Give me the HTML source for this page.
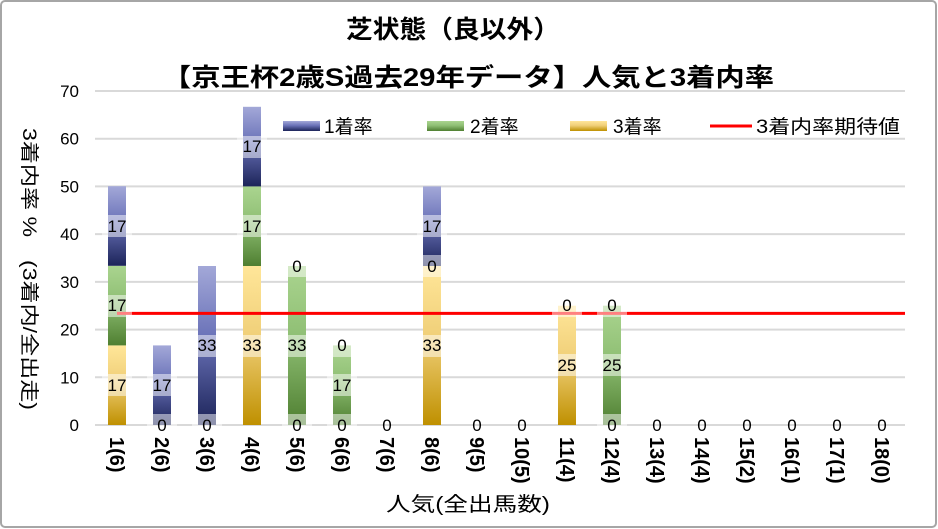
<!DOCTYPE html>
<html><head><meta charset="utf-8"><style>
html,body{margin:0;padding:0;background:#fff;}
svg{display:block;font-family:"Liberation Sans","Noto Sans CJK JP",sans-serif;}
</style></head><body>
<svg width="938" height="529" viewBox="0 0 938 529" xmlns="http://www.w3.org/2000/svg">
<defs>
<linearGradient id="gb" x1="0" y1="0" x2="0" y2="1"><stop offset="0" stop-color="#a3a8d8"/><stop offset="0.45" stop-color="#6a72b8"/><stop offset="1" stop-color="#1c2459"/></linearGradient>
<linearGradient id="gg" x1="0" y1="0" x2="0" y2="1"><stop offset="0" stop-color="#aad48f"/><stop offset="0.45" stop-color="#8fbf74"/><stop offset="1" stop-color="#4f7f31"/></linearGradient>
<linearGradient id="gy" x1="0" y1="0" x2="0" y2="1"><stop offset="0" stop-color="#ffe699"/><stop offset="0.45" stop-color="#f0cf78"/><stop offset="1" stop-color="#bf9000"/></linearGradient>
</defs>
<rect x="1" y="1" width="935" height="526" rx="4" fill="#fff" stroke="#a6a6a6" stroke-width="2"/>
<text x="346" y="38" font-size="25" font-weight="bold" textLength="214" lengthAdjust="spacingAndGlyphs">芝状態（良以外）</text>
<text x="162" y="86" font-size="25" font-weight="bold" textLength="612" lengthAdjust="spacingAndGlyphs">【京王杯2歳S過去29年データ】人気と3着内率</text>
<!-- grid -->
<g stroke="#d9d9d9" stroke-width="2">
<line x1="95" y1="91" x2="905" y2="91"/><line x1="95" y1="138.7" x2="905" y2="138.7"/>
<line x1="95" y1="186.4" x2="905" y2="186.4"/><line x1="95" y1="234.1" x2="905" y2="234.1"/>
<line x1="95" y1="281.9" x2="905" y2="281.9"/><line x1="95" y1="329.6" x2="905" y2="329.6"/>
<line x1="95" y1="377.3" x2="905" y2="377.3"/><line x1="95" y1="425" x2="905" y2="425"/>
</g>
<g font-size="17" text-anchor="end" fill="#000">
<text x="79" y="97">70</text><text x="79" y="144.7">60</text><text x="79" y="192.4">50</text>
<text x="79" y="240.1">40</text><text x="79" y="287.9">30</text><text x="79" y="335.6">20</text>
<text x="79" y="383.3">10</text><text x="79" y="431">0</text>
</g>
<text transform="translate(23,128) rotate(90)" font-size="19" textLength="282" lengthAdjust="spacingAndGlyphs">3着内率 %　(3着内/全出走)</text>
<!-- legend -->
<rect x="283" y="121" width="37" height="10" fill="url(#gb)"/><text x="324" y="133" font-size="19">1着率</text>
<rect x="427" y="121" width="37" height="10" fill="url(#gg)"/><text x="470" y="133" font-size="19">2着率</text>
<rect x="570" y="121" width="37" height="10" fill="url(#gy)"/><text x="613" y="133" font-size="19">3着率</text>
<line x1="710" y1="126" x2="752" y2="126" stroke="#f00" stroke-width="3"/><text x="756" y="133" font-size="19" textLength="144" lengthAdjust="spacingAndGlyphs">3着内率期待値</text>
<!-- bars -->
<g>
<rect x="108" y="345.4" width="18" height="79.6" fill="url(#gy)"/>
<rect x="108" y="265.8" width="18" height="79.6" fill="url(#gg)"/>
<rect x="108" y="186.2" width="18" height="79.6" fill="url(#gb)"/>
<rect x="153" y="345.4" width="18" height="79.6" fill="url(#gb)"/>
<rect x="198" y="266" width="18" height="159" fill="url(#gb)"/>
<rect x="243" y="266" width="18" height="159" fill="url(#gy)"/>
<rect x="243" y="186.4" width="18" height="79.6" fill="url(#gg)"/>
<rect x="243" y="106.8" width="18" height="79.6" fill="url(#gb)"/>
<rect x="288" y="266" width="18" height="159" fill="url(#gg)"/>
<rect x="333" y="345.4" width="18" height="79.6" fill="url(#gg)"/>
<rect x="423" y="266" width="18" height="159" fill="url(#gy)"/>
<rect x="423" y="186.4" width="18" height="79.6" fill="url(#gb)"/>
<rect x="558" y="305.7" width="18" height="119.3" fill="url(#gy)"/>
<rect x="603" y="305.7" width="18" height="119.3" fill="url(#gg)"/>
</g>
<line x1="117" y1="313.4" x2="905" y2="313.4" stroke="#f00" stroke-width="3"/>
<!-- labels -->
<g font-size="17" text-anchor="middle" fill="#000">
<g fill="#fff" fill-opacity="0.5">
<rect x="102" y="374" width="30" height="22"/><rect x="102" y="295" width="30" height="22"/><rect x="102" y="215" width="30" height="22"/>
<rect x="147" y="374" width="30" height="22"/><rect x="147" y="414" width="30" height="22"/>
<rect x="192" y="335" width="30" height="22"/><rect x="192" y="414" width="30" height="22"/>
<rect x="237" y="335" width="30" height="22"/><rect x="237" y="215" width="30" height="22"/><rect x="237" y="136" width="30" height="22"/>
<rect x="282" y="335" width="30" height="22"/><rect x="282" y="414" width="30" height="22"/><rect x="282" y="255" width="30" height="22"/>
<rect x="327" y="374" width="30" height="22"/><rect x="327" y="414" width="30" height="22"/><rect x="327" y="335" width="30" height="22"/>
<rect x="417" y="335" width="30" height="22"/><rect x="417" y="255" width="30" height="22"/><rect x="417" y="215" width="30" height="22"/>
<rect x="552" y="354" width="30" height="22"/><rect x="552" y="295" width="30" height="22"/>
<rect x="597" y="354" width="30" height="22"/><rect x="597" y="295" width="30" height="22"/><rect x="597" y="414" width="30" height="22"/>
</g>
<text x="117" y="391">17</text><text x="117" y="311">17</text><text x="117" y="232">17</text>
<text x="162" y="391">17</text><text x="162" y="431">0</text>
<text x="207" y="351">33</text><text x="207" y="431">0</text>
<text x="252" y="351">33</text><text x="252" y="232">17</text><text x="252" y="152">17</text>
<text x="297" y="431">0</text><text x="297" y="351">33</text><text x="297" y="272">0</text>
<text x="342" y="431">0</text><text x="342" y="391">17</text><text x="342" y="351">0</text>
<text x="387" y="431">0</text>
<text x="432" y="351">33</text><text x="432" y="272">0</text><text x="432" y="232">17</text>
<text x="477" y="431">0</text><text x="522" y="431">0</text>
<text x="567" y="371">25</text><text x="567" y="311">0</text>
<text x="612" y="431">0</text><text x="612" y="371">25</text><text x="612" y="311">0</text>
<text x="657" y="431">0</text><text x="702" y="431">0</text><text x="747" y="431">0</text>
<text x="792" y="431">0</text><text x="837" y="431">0</text><text x="882" y="431">0</text>
</g>
<!-- x labels -->
<g font-size="20" font-weight="bold">
<text transform="translate(110,437) rotate(90)">1(6)</text>
<text transform="translate(155,437) rotate(90)">2(6)</text>
<text transform="translate(200,437) rotate(90)">3(6)</text>
<text transform="translate(245,437) rotate(90)">4(6)</text>
<text transform="translate(290,437) rotate(90)">5(6)</text>
<text transform="translate(335,437) rotate(90)">6(6)</text>
<text transform="translate(380,437) rotate(90)">7(6)</text>
<text transform="translate(425,437) rotate(90)">8(6)</text>
<text transform="translate(470,437) rotate(90)">9(5)</text>
<text transform="translate(515,437) rotate(90)">10(5)</text>
<text transform="translate(560,437) rotate(90)">11(4)</text>
<text transform="translate(605,437) rotate(90)">12(4)</text>
<text transform="translate(650,437) rotate(90)">13(4)</text>
<text transform="translate(695,437) rotate(90)">14(4)</text>
<text transform="translate(740,437) rotate(90)">15(2)</text>
<text transform="translate(785,437) rotate(90)">16(1)</text>
<text transform="translate(830,437) rotate(90)">17(1)</text>
<text transform="translate(875,437) rotate(90)">18(0)</text>
</g>
<text x="386" y="511" font-size="20" textLength="164" lengthAdjust="spacingAndGlyphs">人気(全出馬数)</text>
</svg>
</body></html>
